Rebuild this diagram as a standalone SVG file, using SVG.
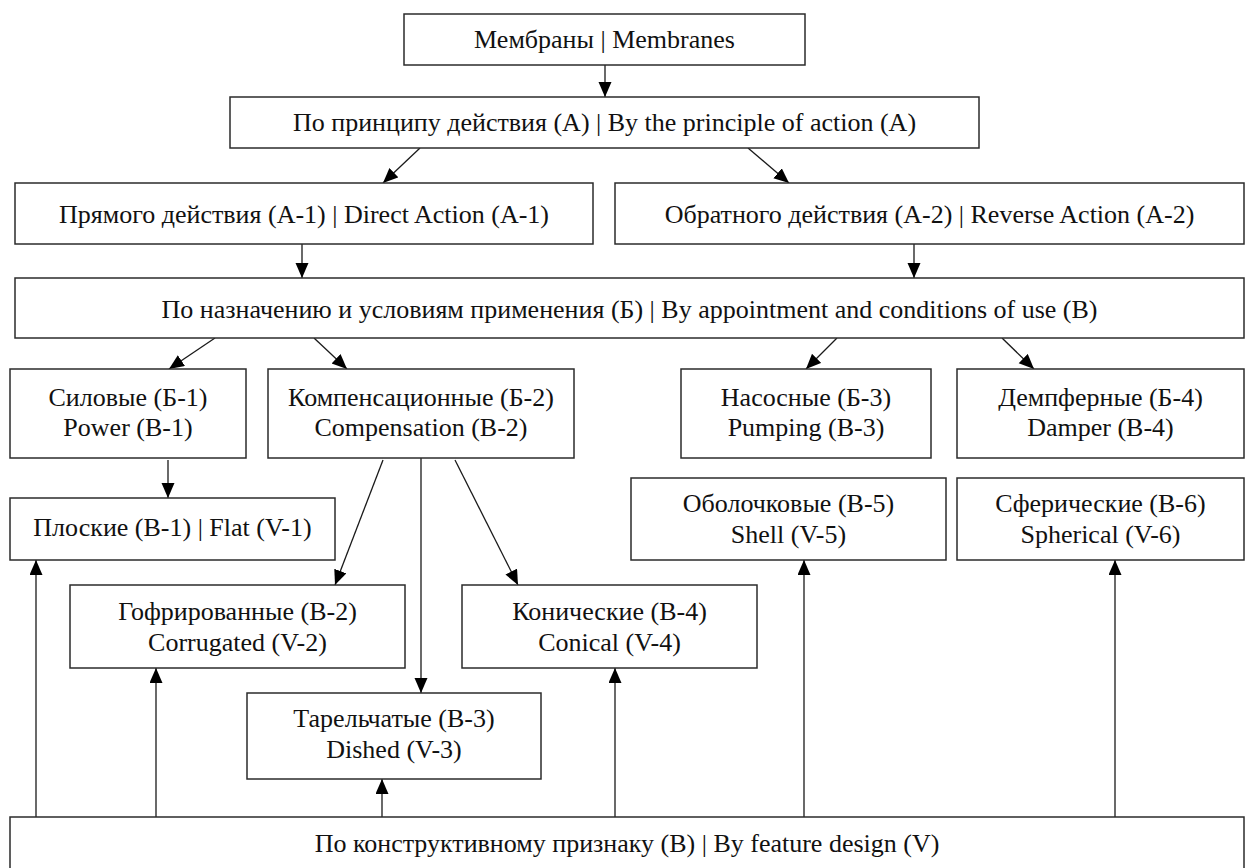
<svg xmlns="http://www.w3.org/2000/svg" width="1245" height="868" viewBox="0 0 1245 868">
<style>
.box{fill:#fff;stroke:#2b2b2b;stroke-width:1.5}
.t{font-family:"Liberation Serif","Times New Roman",serif;font-size:26px;fill:#111;text-anchor:middle}
.c{stroke:#1a1a1a;stroke-width:1.3;fill:none;marker-end:url(#ah)}
</style>
<defs>
<marker id="ah" markerUnits="userSpaceOnUse" markerWidth="16" markerHeight="14" refX="15" refY="6.5" orient="auto">
<path d="M0,0 L15,6.5 L0,13 z" fill="#000"/>
</marker>
</defs>
<rect width="1245" height="868" fill="#fff"/>
<g id="connectors">
<line class="c" x1="605" y1="65" x2="605" y2="97"/>
<line class="c" x1="420" y1="148" x2="383" y2="183"/>
<line class="c" x1="748" y1="148" x2="789" y2="183"/>
<line class="c" x1="302" y1="244" x2="302" y2="278"/>
<line class="c" x1="914" y1="244" x2="914" y2="278"/>
<line class="c" x1="215" y1="338" x2="169" y2="369"/>
<line class="c" x1="314" y1="338" x2="347" y2="369"/>
<line class="c" x1="837" y1="338" x2="806" y2="369"/>
<line class="c" x1="1002" y1="338" x2="1034" y2="369"/>
<line class="c" x1="168" y1="460" x2="168" y2="498"/>
<line class="c" x1="383" y1="460" x2="335" y2="585"/>
<line class="c" x1="421" y1="458" x2="421" y2="693"/>
<line class="c" x1="455" y1="460" x2="518" y2="585"/>
<line class="c" x1="36" y1="817" x2="36" y2="560"/>
<line class="c" x1="156" y1="817" x2="156" y2="668"/>
<line class="c" x1="382" y1="817" x2="382" y2="779"/>
<line class="c" x1="615" y1="817" x2="615" y2="668"/>
<line class="c" x1="804" y1="817" x2="804" y2="560"/>
<line class="c" x1="1115" y1="817" x2="1115" y2="560"/>
</g>
<g id="membranes"><rect class="box" x="404" y="14" width="401" height="51"/><text class="t" x="604.5" y="48">Мембраны | Membranes</text></g>
<g id="principle"><rect class="box" x="230" y="97" width="749" height="51"/><text class="t" x="604.5" y="131">По принципу действия (А) | By the principle of action (A)</text></g>
<g id="direct"><rect class="box" x="15" y="183" width="578" height="61"/><text class="t" x="304" y="223">Прямого действия (А-1) | Direct Action (A-1)</text></g>
<g id="reverse"><rect class="box" x="615" y="183" width="629" height="61"/><text class="t" x="929.5" y="223">Обратного действия (А-2) | Reverse Action (A-2)</text></g>
<g id="purpose"><rect class="box" x="15" y="278" width="1229" height="60"/><text class="t" x="629.5" y="318">По назначению и условиям применения (Б) | By appointment and conditions of use (B)</text></g>
<g id="power"><rect class="box" x="10" y="369" width="236" height="89"/><text class="t" x="128" y="406">Силовые (Б-1)</text><text class="t" x="128" y="436">Power (B-1)</text></g>
<g id="compensation"><rect class="box" x="268" y="369" width="306" height="89"/><text class="t" x="421" y="406">Компенсационные (Б-2)</text><text class="t" x="421" y="436">Compensation (B-2)</text></g>
<g id="pumping"><rect class="box" x="681" y="369" width="250" height="89"/><text class="t" x="806" y="406">Насосные (Б-3)</text><text class="t" x="806" y="436">Pumping (B-3)</text></g>
<g id="damper"><rect class="box" x="957" y="369" width="287" height="89"/><text class="t" x="1100.5" y="406">Демпферные (Б-4)</text><text class="t" x="1100.5" y="436">Damper (B-4)</text></g>
<g id="flat"><rect class="box" x="10" y="498" width="325" height="62"/><text class="t" x="172.5" y="536">Плоские (В-1) | Flat (V-1)</text></g>
<g id="shell"><rect class="box" x="631" y="478" width="315" height="82"/><text class="t" x="788.5" y="512">Оболочковые (В-5)</text><text class="t" x="788.5" y="543">Shell (V-5)</text></g>
<g id="spherical"><rect class="box" x="957" y="478" width="287" height="82"/><text class="t" x="1100.5" y="512">Сферические (В-6)</text><text class="t" x="1100.5" y="543">Spherical (V-6)</text></g>
<g id="corrugated"><rect class="box" x="70" y="585" width="335" height="83"/><text class="t" x="237.5" y="620">Гофрированные (В-2)</text><text class="t" x="237.5" y="651">Corrugated (V-2)</text></g>
<g id="conical"><rect class="box" x="462" y="585" width="295" height="83"/><text class="t" x="609.5" y="620">Конические (В-4)</text><text class="t" x="609.5" y="651">Conical (V-4)</text></g>
<g id="dished"><rect class="box" x="247" y="693" width="294" height="86"/><text class="t" x="394" y="727">Тарельчатые (В-3)</text><text class="t" x="394" y="758">Dished (V-3)</text></g>
<g id="design"><rect class="box" x="10" y="817" width="1234" height="60"/><text class="t" x="627" y="852">По конструктивному признаку (В) | By feature design (V)</text></g>
</svg>
